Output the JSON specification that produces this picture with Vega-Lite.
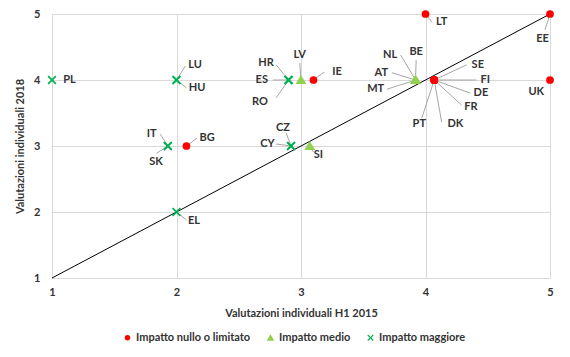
{
  "$schema": "https://vega.github.io/schema/vega-lite/v6.json",
  "width": 498,
  "height": 264,
  "autosize": {"type": "none"},
  "padding": {"left": 52, "top": 14, "right": 20, "bottom": 79},
  "background": "white",
  "config": {
    "view": {"stroke": null},
    "font": "Lato",
    "axis": {
      "gridColor": "#d9d9d9",
      "domainColor": "#d9d9d9",
      "ticks": false,
      "labelFlush": false,
      "labelFont": "Lato",
      "labelFontSize": 11,
      "labelFontWeight": "bold",
      "labelColor": "#333333",
      "titleFont": "Lato",
      "titleFontSize": 11,
      "titleFontWeight": "bold",
      "titleColor": "#333333"
    },
    "legend": {
      "labelFont": "Lato",
      "labelFontSize": 11,
      "labelFontWeight": "bold",
      "labelColor": "#333333"
    }
  },
  "datasets": {
    "paesi": [
      {"paese": "PL", "h1": 1, "v2018": 4, "gruppo": "Impatto maggiore", "lx": 1.14, "ly": 4.0},
      {"paese": "LU", "h1": 2, "v2018": 4, "gruppo": "Impatto maggiore", "lx": 2.15, "ly": 4.23, "ax": 2.07, "ay": 4.21},
      {"paese": "HU", "h1": 2, "v2018": 4, "gruppo": "Impatto maggiore", "lx": 2.165, "ly": 3.88, "ax": 2.08, "ay": 3.88},
      {"paese": "IT", "h1": 1.93, "v2018": 3, "gruppo": "Impatto maggiore", "lx": 1.8, "ly": 3.18, "ax": 1.87, "ay": 3.18},
      {"paese": "SK", "h1": 1.93, "v2018": 3, "gruppo": "Impatto maggiore", "lx": 1.835, "ly": 2.76, "ax": 1.84, "ay": 2.89},
      {"paese": "BG", "h1": 2.08, "v2018": 3, "gruppo": "Impatto nullo o limitato", "lx": 2.245, "ly": 3.12, "ax": 2.165, "ay": 3.12},
      {"paese": "EL", "h1": 2, "v2018": 2, "gruppo": "Impatto maggiore", "lx": 2.14, "ly": 1.86, "ax": 2.08, "ay": 1.88},
      {"paese": "CZ", "h1": 2.92, "v2018": 3, "gruppo": "Impatto maggiore", "lx": 2.855, "ly": 3.27, "ax": 2.88, "ay": 3.2},
      {"paese": "CY", "h1": 2.92, "v2018": 3, "gruppo": "Impatto maggiore", "lx": 2.73, "ly": 3.03, "ax": 2.8, "ay": 3.03},
      {"paese": "SI", "h1": 3.07, "v2018": 3, "gruppo": "Impatto medio", "lx": 3.14, "ly": 2.86, "ax": 3.1, "ay": 2.91},
      {"paese": "HR", "h1": 2.9, "v2018": 4, "gruppo": "Impatto maggiore", "lx": 2.72, "ly": 4.26, "ax": 2.8, "ay": 4.23},
      {"paese": "ES", "h1": 2.9, "v2018": 4, "gruppo": "Impatto maggiore", "lx": 2.685, "ly": 4.0, "ax": 2.775, "ay": 4.0},
      {"paese": "RO", "h1": 2.9, "v2018": 4, "gruppo": "Impatto maggiore", "lx": 2.67, "ly": 3.67, "ax": 2.8, "ay": 3.73},
      {"paese": "LV", "h1": 3, "v2018": 4, "gruppo": "Impatto medio", "lx": 2.99, "ly": 4.38, "ax": 2.99, "ay": 4.26},
      {"paese": "IE", "h1": 3.1, "v2018": 4, "gruppo": "Impatto nullo o limitato", "lx": 3.29, "ly": 4.12, "ax": 3.185, "ay": 4.12},
      {"paese": "LT", "h1": 4, "v2018": 5, "gruppo": "Impatto nullo o limitato", "lx": 4.13, "ly": 4.88, "ax": 4.05, "ay": 4.88},
      {"paese": "EE", "h1": 5, "v2018": 5, "gruppo": "Impatto nullo o limitato", "lx": 4.94, "ly": 4.62, "ax": 4.96, "ay": 4.76},
      {"paese": "NL", "h1": 3.92, "v2018": 4, "gruppo": "Impatto medio", "lx": 3.715, "ly": 4.38, "ax": 3.8, "ay": 4.38},
      {"paese": "BE", "h1": 3.92, "v2018": 4, "gruppo": "Impatto medio", "lx": 3.925, "ly": 4.42, "ax": 3.925, "ay": 4.3},
      {"paese": "AT", "h1": 3.92, "v2018": 4, "gruppo": "Impatto medio", "lx": 3.645, "ly": 4.11, "ax": 3.73, "ay": 4.11},
      {"paese": "MT", "h1": 3.92, "v2018": 4, "gruppo": "Impatto medio", "lx": 3.6, "ly": 3.86, "ax": 3.69, "ay": 3.86},
      {"paese": "SE", "h1": 4.07, "v2018": 4, "gruppo": "Impatto nullo o limitato", "lx": 4.42, "ly": 4.23, "ax": 4.33, "ay": 4.23},
      {"paese": "FI", "h1": 4.07, "v2018": 4, "gruppo": "Impatto nullo o limitato", "lx": 4.48, "ly": 4.0, "ax": 4.41, "ay": 4.0},
      {"paese": "DE", "h1": 4.07, "v2018": 4, "gruppo": "Impatto nullo o limitato", "lx": 4.445, "ly": 3.8, "ax": 4.36, "ay": 3.8},
      {"paese": "FR", "h1": 4.07, "v2018": 4, "gruppo": "Impatto nullo o limitato", "lx": 4.365, "ly": 3.59, "ax": 4.29, "ay": 3.62},
      {"paese": "DK", "h1": 4.07, "v2018": 4, "gruppo": "Impatto nullo o limitato", "lx": 4.24, "ly": 3.33, "ax": 4.13, "ay": 3.36},
      {"paese": "PT", "h1": 4.07, "v2018": 4, "gruppo": "Impatto nullo o limitato", "lx": 3.95, "ly": 3.33, "ax": 3.97, "ay": 3.42},
      {"paese": "UK", "h1": 5, "v2018": 4, "gruppo": "Impatto nullo o limitato", "lx": 4.89, "ly": 3.82}
    ],
    "diagonale": [
      {"h1": 1, "v2018": 1},
      {"h1": 5, "v2018": 5}
    ]
  },
  "layer": [
    {
      "data": {"name": "diagonale"},
      "mark": {"type": "line", "color": "#000000", "strokeWidth": 1},
      "encoding": {
        "x": {
          "field": "h1", "type": "quantitative",
          "scale": {"domain": [1, 5], "nice": false, "zero": false},
          "axis": {"values": [1, 2, 3, 4, 5], "format": "d", "title": "Valutazioni individuali H1 2015", "labelPadding": 8, "titlePadding": 10}
        },
        "y": {
          "field": "v2018", "type": "quantitative",
          "scale": {"domain": [1, 5], "nice": false, "zero": false},
          "axis": {"values": [1, 2, 3, 4, 5], "format": "d", "title": "Valutazioni individuali 2018", "labelPadding": 12, "titlePadding": 8}
        }
      }
    },
    {
      "data": {"name": "paesi"},
      "transform": [{"filter": "datum.ax != null"}],
      "mark": {"type": "rule", "color": "#a6a6a6", "strokeWidth": 1},
      "encoding": {
        "x": {"field": "h1", "type": "quantitative"},
        "y": {"field": "v2018", "type": "quantitative"},
        "x2": {"field": "ax"},
        "y2": {"field": "ay"}
      }
    },
    {
      "data": {"name": "paesi"},
      "mark": {"type": "point", "filled": true, "opacity": 1, "size": 60},
      "encoding": {
        "x": {"field": "h1", "type": "quantitative"},
        "y": {"field": "v2018", "type": "quantitative"},
        "color": {
          "field": "gruppo", "type": "nominal",
          "scale": {
            "domain": ["Impatto nullo o limitato", "Impatto medio", "Impatto maggiore"],
            "range": ["#ff0000", "#92d050", "#00b050"]
          },
          "legend": {
            "title": null, "orient": "none", "direction": "horizontal",
            "legendX": 70, "legendY": 318, "columnPadding": 14, "labelOffset": 3, "symbolSize": 30
          }
        },
        "shape": {
          "field": "gruppo", "type": "nominal",
          "scale": {
            "domain": ["Impatto nullo o limitato", "Impatto medio", "Impatto maggiore"],
            "range": ["circle", "M0,-1.3L1.4,1.05L-1.4,1.05Z", "M-1.15,-0.85L-0.85,-1.15L0,-0.3L0.85,-1.15L1.15,-0.85L0.3,0L1.15,0.85L0.85,1.15L0,0.3L-0.85,1.15L-1.15,0.85L-0.3,0Z"]
          },
          "legend": {
            "title": null, "orient": "none", "direction": "horizontal",
            "legendX": 70, "legendY": 318, "columnPadding": 14, "labelOffset": 3, "symbolSize": 30
          }
        }
      }
    },
    {
      "data": {"name": "paesi"},
      "mark": {"type": "text", "font": "Lato", "fontSize": 11, "fontWeight": "bold", "color": "#333333", "align": "center", "baseline": "middle"},
      "encoding": {
        "x": {"field": "lx", "type": "quantitative"},
        "y": {"field": "ly", "type": "quantitative"},
        "text": {"field": "paese"}
      }
    }
  ]
}
